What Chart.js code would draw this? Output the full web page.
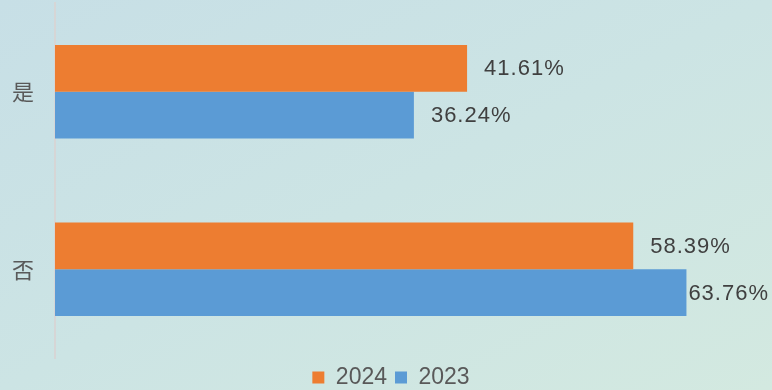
<!DOCTYPE html>
<html lang="zh">
<head>
<meta charset="utf-8">
<title>是 / 否 — 2024 vs 2023</title>
<script src="https://cdn.jsdelivr.net/npm/chart.js@4.4.1/dist/chart.umd.min.js"></script>
<style>
  html, body { margin: 0; padding: 0; }
  body {
    width: 772px;
    height: 390px;
    overflow: hidden;
    background: linear-gradient(to bottom right, #c7dfe6 0%, #cce4e4 50%, #d3e9e0 100%);
  }
  .wrap { position: relative; width: 772px; height: 390px; }
</style>
</head>
<body>
<div class="wrap"><canvas id="chart"></canvas></div>
<script>
// ─── Data ───
const CATEGORIES = ['是', '否'];
const SERIES_NAMES = ['2024', '2023'];
const VALUES_2024 = [41.61, 58.39];
const VALUES_2023 = [36.24, 63.76];

const ORANGE = '#ED7D31';
const BLUE = '#5B9BD5';
const LATIN = '"Liberation Sans", Arial, sans-serif';
const CJK = '"Noto Sans CJK SC", "Noto Sans", sans-serif';

// value labels just past the end of each bar, kept inside the canvas
const barLabels = {
  id: 'barLabels',
  afterDatasetsDraw(chart) {
    const { ctx } = chart;
    ctx.save();
    ctx.font = `22px ${LATIN}`;
    ctx.fillStyle = '#404040';
    ctx.textBaseline = 'middle';
    ctx.textAlign = 'left';
    if ('letterSpacing' in ctx) ctx.letterSpacing = '1px';
    chart.data.datasets.forEach((ds, i) => {
      chart.getDatasetMeta(i).data.forEach((bar, j) => {
        const text = `${ds.data[j].toFixed(2)}%`;
        const w = ctx.measureText(text).width;
        let x = bar.x + 17;
        if (x + w > chart.width - 3) x = chart.width - 3 - w;
        ctx.fillText(text, x, bar.y + 1);
      });
    });
    ctx.restore();
  },
};

new Chart(document.getElementById('chart'), {
  type: 'bar',
  data: {
    labels: CATEGORIES,
    datasets: [
      { label: SERIES_NAMES[0], data: VALUES_2024, backgroundColor: ORANGE },
      { label: SERIES_NAMES[1], data: VALUES_2023, backgroundColor: BLUE },
    ],
  },
  options: {
    indexAxis: 'y',
    responsive: true,
    maintainAspectRatio: false,
    animation: false,
    events: [],
    layout: { padding: { left: 10, right: 0, top: 3, bottom: -9 } },
    datasets: {
      bar: { barPercentage: 1, categoryPercentage: 0.528 },
    },
    scales: {
      x: { display: false, min: 0, max: 72.4 },
      y: {
        grid: { display: false, drawTicks: false },
        border: { display: true, color: '#D6D6D6', width: 2 },
        ticks: {
          padding: 21,
          color: '#595959',
          font: { family: CJK, size: 22 },
        },
        // fixed axis width; the category labels sit in the band centres,
        // so no extra room is needed above or below the plot
        afterFit: (s) => {
          s.width = 45;
          s.paddingTop = 0;
          s.paddingBottom = 0;
        },
      },
    },
    plugins: {
      legend: {
        position: 'bottom',
        labels: {
          boxWidth: 12,
          boxHeight: 12,
          padding: 8,
          color: '#595959',
          font: { family: LATIN, size: 23 },
        },
      },
      tooltip: { enabled: false },
    },
  },
  plugins: [barLabels],
});
</script>
</body>
</html>
